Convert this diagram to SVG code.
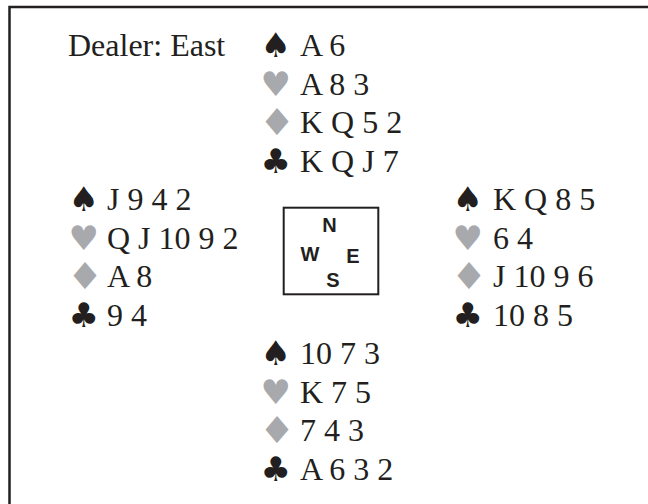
<svg xmlns="http://www.w3.org/2000/svg" width="648" height="504" viewBox="0 0 648 504">
<style>
.t{font-family:"Liberation Serif","Times New Roman",serif;font-size:32px;fill:#231f20}
.s{font-family:"DejaVu Sans",sans-serif;font-size:34px;text-anchor:end}
.d{font-family:"DejaVu Sans",sans-serif;font-size:37px;text-anchor:middle;fill:#a7a9ac}
.k{fill:#231f20}
.r{fill:#a7a9ac}
.c{font-family:"Liberation Sans",Arial,sans-serif;font-weight:bold;font-size:20px;fill:#231f20;text-anchor:middle}
</style>
<rect width="648" height="504" fill="#fff"/>
<g id="frame" fill="none" stroke="#231f20" stroke-width="2.5">
<path d="M9.5 504 V7 H648"/>
</g>
<g id="dealer"><text class="t" x="68" y="55.5">Dealer: East</text></g>
<g id="north">
<text class="s k" x="291" y="57">♠</text><text class="t" x="300" y="56">A 6</text>
<text class="s r" x="291" y="95.5">♥</text><text class="t" x="300" y="94.5">A 8 3</text>
<text class="d" transform="translate(277,135) scale(1.1,1)">♦</text><text class="t" x="300" y="133">K Q 5 2</text>
<text class="s k" x="291" y="172.5">♣</text><text class="t" x="300" y="171.5">K Q J 7</text>
</g>
<g id="west">
<text class="s k" x="99" y="211">♠</text><text class="t" x="107" y="210">J 9 4 2</text>
<text class="s r" x="99" y="249.5">♥</text><text class="t" x="107" y="248.5">Q J 10 9 2</text>
<text class="d" transform="translate(85,289) scale(1.1,1)">♦</text><text class="t" x="107" y="287">A 8</text>
<text class="s k" x="99" y="326.5">♣</text><text class="t" x="107" y="325.5">9 4</text>
</g>
<g id="east">
<text class="s k" x="483" y="211">♠</text><text class="t" x="493" y="210">K Q 8 5</text>
<text class="s r" x="483" y="249.5">♥</text><text class="t" x="493" y="248.5">6 4</text>
<text class="d" transform="translate(469,289) scale(1.1,1)">♦</text><text class="t" x="493" y="287">J 10 9 6</text>
<text class="s k" x="483" y="326.5">♣</text><text class="t" x="493" y="325.5">10 8 5</text>
</g>
<g id="south">
<text class="s k" x="291" y="365">♠</text><text class="t" x="300" y="364">10 7 3</text>
<text class="s r" x="291" y="403.5">♥</text><text class="t" x="300" y="402.5">K 7 5</text>
<text class="d" transform="translate(277,443) scale(1.1,1)">♦</text><text class="t" x="300" y="441">7 4 3</text>
<text class="s k" x="291" y="480.5">♣</text><text class="t" x="300" y="479.5">A 6 3 2</text>
</g>
<g id="compass">
<rect x="283.7" y="207.7" width="94.6" height="86.6" fill="none" stroke="#231f20" stroke-width="2"/>
<text class="c" x="329.5" y="232.3">N</text>
<text class="c" x="310" y="260.5">W</text>
<text class="c" x="353" y="262.5">E</text>
<text class="c" x="333" y="287">S</text>
</g>
</svg>
